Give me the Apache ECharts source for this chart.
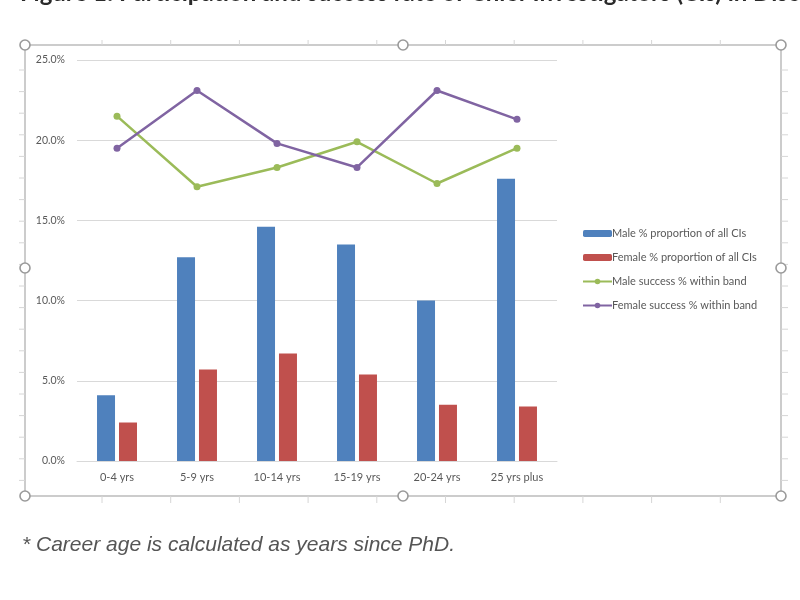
<!DOCTYPE html>
<html>
<head>
<meta charset="utf-8">
<script src="https://cdn.jsdelivr.net/npm/echarts@6/dist/echarts.min.js"></script>
<style>
  html, body { margin: 0; padding: 0; background: #fff; }
  #main { width: 800px; height: 600px; }
</style>
</head>
<body>
<div id="main"></div>
<script>
// career age bands
var bands = ['0-4 yrs', '5-9 yrs', '10-14 yrs', '15-19 yrs', '20-24 yrs', '25 yrs plus'];

// proportions of all CIs (%)
var maleShare = [4.1, 12.7, 14.6, 13.5, 10.0, 17.6];
var femaleShare = [2.4, 5.7, 6.7, 5.4, 3.5, 3.4];

// success rate within band (%)
var maleSuccess = [21.5, 17.1, 18.3, 19.9, 17.3, 19.5];
var femaleSuccess = [19.5, 23.1, 19.8, 18.3, 23.1, 21.3];

var seriesNames = [
    'Male % proportion of all CIs',
    'Female % proportion of all CIs',
    'Male success % within band',
    'Female success % within band'
];

var yTicks = { min: 0, max: 25, interval: 5 };

var font = 'Lato, "Open Sans", sans-serif';
var grey = '#595959';

// selection frame drawn round the embedded chart (Excel picture handles)
var frame = { x0: 25, y0: 45, x1: 781, y1: 496 };
var frameColor = '#bcbcbc';

function frameGraphics() {
    var g = [];
    g.push({
        type: 'rect', silent: true,
        shape: { x: frame.x0, y: frame.y0, width: frame.x1 - frame.x0, height: frame.y1 - frame.y0 },
        style: { fill: 'none', stroke: frameColor, lineWidth: 1.5 }
    });
    // ruler ticks, pointing outwards
    for (var x = 102; x < frame.x1 - 20; x += 68.7) {
        g.push({ type: 'line', silent: true, shape: { x1: x, y1: frame.y0 - 5, x2: x, y2: frame.y0 }, style: { stroke: '#d6d6d6', lineWidth: 1 } });
        g.push({ type: 'line', silent: true, shape: { x1: x, y1: frame.y1, x2: x, y2: frame.y1 + 7 }, style: { stroke: '#d6d6d6', lineWidth: 1 } });
    }
    for (var y = 70; y < frame.y1 - 10; y += 21.6) {
        g.push({ type: 'line', silent: true, shape: { x1: frame.x0 - 6, y1: y, x2: frame.x0, y2: y }, style: { stroke: '#d6d6d6', lineWidth: 1 } });
        g.push({ type: 'line', silent: true, shape: { x1: frame.x1, y1: y, x2: frame.x1 + 7, y2: y }, style: { stroke: '#d6d6d6', lineWidth: 1 } });
    }
    var mx = 403;
    var my = 268;
    var handles = [
        [frame.x0, frame.y0], [mx, frame.y0], [frame.x1, frame.y0],
        [frame.x0, my], [frame.x1, my],
        [frame.x0, frame.y1], [mx, frame.y1], [frame.x1, frame.y1]
    ];
    handles.forEach(function (h) {
        g.push({
            type: 'circle', silent: true, z: 10,
            shape: { cx: h[0], cy: h[1], r: 5 },
            style: { fill: '#fff', stroke: '#9a9a9a', lineWidth: 1.6 }
        });
    });
    return g;
}

var graphics = frameGraphics();
// page heading, cut off at the top of the screenshot
graphics.push({
    type: 'text', silent: true, left: 20, top: -19,
    style: {
        text: 'Figure 1: Participation and success rate of Chief Investigators (CIs) in Discovery Projects',
        fill: '#2b2b2b', font: 'bold 24px ' + font
    }
});
// footnote under the chart
graphics.push({
    type: 'text', silent: true, left: 22, top: 535,
    style: {
        text: '* Career age is calculated as years since PhD.',
        fill: '#555', font: 'italic 21px "Liberation Sans", Arial, sans-serif'
    }
});

var option = {
    backgroundColor: '#fff',
    animation: false,
    color: ['#4f81bd', '#c0504d', '#9bbb59', '#8064a2'],
    grid: { left: 77, right: 243, top: 60, bottom: 139 },
    legend: {
        orient: 'vertical',
        left: 577,
        top: 223,
        itemWidth: 29,
        itemHeight: 7,
        itemGap: 13,
        selectedMode: false,
        textStyle: { color: grey, fontSize: 11, fontFamily: font, padding: [0, 0, 0, -5] },
        data: seriesNames
    },
    xAxis: {
        type: 'category',
        data: bands,
        axisLine: { show: true, lineStyle: { color: '#d9d9d9' } },
        axisTick: { show: false },
        axisLabel: { color: grey, fontSize: 11, fontFamily: font, margin: 11 }
    },
    yAxis: {
        type: 'value',
        min: yTicks.min,
        max: yTicks.max,
        interval: yTicks.interval,
        axisLine: { show: false },
        axisTick: { show: false },
        splitLine: { lineStyle: { color: '#d9d9d9', width: 1 } },
        axisLabel: {
            color: grey, fontSize: 10.5, fontFamily: font, margin: 12,
            formatter: function (v) { return v.toFixed(1) + '%'; }
        }
    },
    series: [
        {
            name: seriesNames[0], type: 'bar', data: maleShare,
            barWidth: 18, barGap: '22%'
        },
        {
            name: seriesNames[1], type: 'bar', data: femaleShare,
            barWidth: 18, barGap: '22%'
        },
        {
            name: seriesNames[2], type: 'line', data: maleSuccess,
            symbol: 'circle', symbolSize: 7,
            lineStyle: { width: 2.5 }, z: 3
        },
        {
            name: seriesNames[3], type: 'line', data: femaleSuccess,
            symbol: 'circle', symbolSize: 7,
            lineStyle: { width: 2.5 }, z: 4
        }
    ],
    graphic: graphics
};

var chart = echarts.init(document.getElementById('main'));
chart.setOption(option);
</script>
</body>
</html>
